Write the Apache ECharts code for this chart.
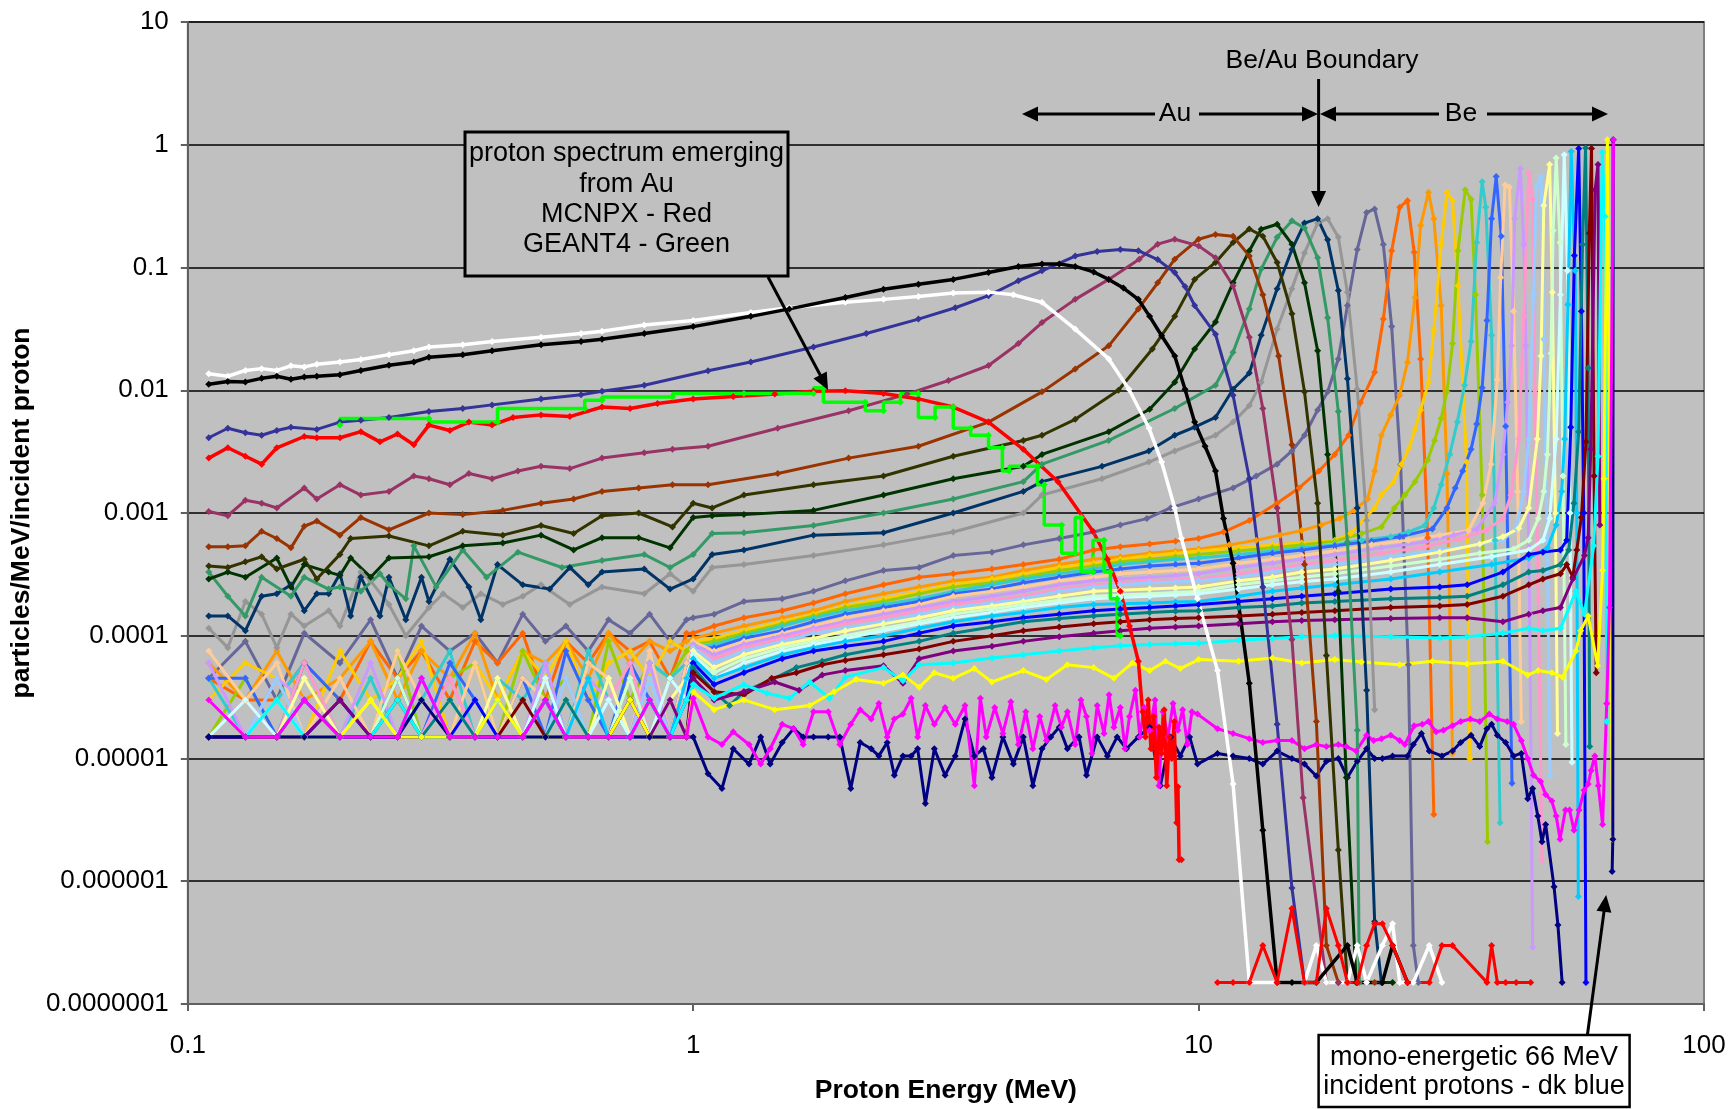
<!DOCTYPE html>
<html><head><meta charset="utf-8">
<script src="https://cdn.jsdelivr.net/npm/echarts@6/dist/echarts.min.js"></script>
<style>html,body{margin:0;padding:0;background:#fff}#c{width:1729px;height:1109px}</style>
</head><body><div id="c"></div>
<script>
const xTickLabels = ['0.1','1','10','100'];
const yTickLabels = ['0.0000001','0.000001','0.00001','0.0001','0.001','0.01','0.1','1','10'];
const lowE = [0.11,0.13,0.15,0.17,0.2,0.23,0.26,0.29,0.33,0.37,0.41,0.46,0.51,0.56,0.62,0.68,0.75,0.82,0.9,0.97];

// ---- Au region spectra ----
const auWhite = [[0.11,0.0136],[0.12,0.013],[0.13,0.0145],[0.14,0.015],[0.15,0.0145],[0.16,0.0158],[0.17,0.0155],[0.18,0.0163],[0.2,0.017],[0.22,0.0178],[0.25,0.0195],[0.28,0.021],[0.3,0.0225],[0.35,0.0235],[0.4,0.025],[0.5,0.027],[0.6,0.029],[0.66,0.0303],[0.8,0.034],[1.0,0.037],[1.3,0.043],[1.55,0.047],[2.0,0.052],[2.38,0.055],[2.79,0.058],[3.27,0.062],[3.84,0.063],[4.3,0.06],[4.9,0.052],[5.7,0.0315],[6.64,0.018],[7.28,0.0102],[7.98,0.0049],[8.45,0.0026],[8.97,0.0011],[9.25,6.2e-4],[9.95,2.0e-4],[10.9,5.2e-5],[11.7,6.2e-6],[12.6,1.5e-7],[14.3,1.5e-7],[16.2,1.5e-7],[17.1,3e-7],[17.9,1.5e-7],[19.7,1.5e-7],[20.6,3e-7],[21.5,1.5e-7],[23.1,3e-7],[24.2,4.5e-7],[25.0,1.5e-7],[26.6,1.5e-7],[28.6,3e-7],[30.3,1.5e-7]];
const auBlack = [[0.11,0.0112],[0.12,0.0118],[0.13,0.0117],[0.14,0.0125],[0.15,0.013],[0.16,0.0123],[0.17,0.0128],[0.18,0.013],[0.2,0.0134],[0.22,0.0145],[0.25,0.016],[0.28,0.017],[0.3,0.0186],[0.35,0.0195],[0.4,0.021],[0.5,0.0235],[0.6,0.025],[0.66,0.026],[0.8,0.029],[1.0,0.033],[1.3,0.04],[1.55,0.046],[2.0,0.057],[2.38,0.0665],[2.79,0.073],[3.27,0.08],[3.84,0.091],[4.4,0.102],[4.9,0.107],[5.3,0.107],[5.7,0.102],[6.2,0.092],[6.64,0.08],[7.1,0.068],[7.6,0.055],[8.0,0.04],[8.45,0.0278],[8.97,0.019],[9.4,0.0102],[9.82,0.0055],[10.3,0.0035],[10.8,0.0022],[11.2,9e-4],[11.7,3.9e-4],[12.6,4.1e-5],[13.4,2.6e-6],[14.3,1.5e-7],[15.3,1.5e-7],[17.1,1.5e-7],[19.7,3e-7],[20.6,1.5e-7],[23.1,1.5e-7],[24.2,3e-7],[25.9,1.5e-7]];
const auIndigo = [[0.11,0.0041],[0.12,0.0049],[0.13,0.0045],[0.14,0.0043],[0.15,0.0047],[0.16,0.005],[0.18,0.0048],[0.2,0.0055],[0.22,0.0057],[0.25,0.006],[0.3,0.0067],[0.35,0.0071],[0.4,0.0076],[0.5,0.0085],[0.6,0.0092],[0.66,0.0098],[0.8,0.011],[1.07,0.0144],[1.3,0.017],[1.73,0.0225],[2.2,0.029],[2.79,0.038],[3.3,0.047],[3.84,0.059],[4.4,0.078],[4.9,0.094],[5.7,0.124],[6.3,0.135],[7.0,0.14],[7.6,0.137],[8.3,0.116],[8.97,0.091],[9.4,0.07],[9.82,0.049],[10.8,0.0286],[11.7,0.0091],[12.6,0.0019],[13.4,2.5e-4],[14.3,1.9e-5],[15.3,8.8e-7],[16.2,1.5e-7]];
const auPurple = [[0.11,0.00103],[0.12,0.00095],[0.13,0.00127],[0.14,0.0012],[0.15,0.0011],[0.17,0.0016],[0.18,0.0013],[0.2,0.0017],[0.22,0.0014],[0.25,0.0015],[0.28,0.002],[0.3,0.0019],[0.33,0.0017],[0.36,0.0021],[0.4,0.0019],[0.45,0.0022],[0.5,0.0024],[0.57,0.0023],[0.66,0.0028],[0.8,0.0031],[0.91,0.0033],[1.07,0.0035],[1.47,0.0049],[2.03,0.0068],[2.65,0.0093],[3.2,0.012],[3.84,0.0159],[4.4,0.024],[4.9,0.0356],[5.7,0.055],[6.64,0.08],[7.63,0.117],[8.3,0.155],[8.97,0.17],[10,0.15],[10.8,0.12],[11.7,0.071],[12.6,0.027],[13.4,0.0071],[14.3,0.0011],[15.3,9.3e-5],[16.1,4.8e-6],[17.9,1.5e-7],[18.9,1.5e-7],[19.7,1.5e-7],[21.5,1.5e-7]];
const auBrown = [[0.11,5.3e-4],[0.12,5.3e-4],[0.13,5.4e-4],[0.14,7.1e-4],[0.15,6.2e-4],[0.16,5.2e-4],[0.17,7.8e-4],[0.18,8.6e-4],[0.2,6.6e-4],[0.22,9.2e-4],[0.25,7.3e-4],[0.3,0.001],[0.35,9.7e-4],[0.42,0.00105],[0.5,0.0012],[0.58,0.0013],[0.66,0.0015],[0.78,0.0016],[0.91,0.0017],[1.07,0.0017],[1.47,0.0021],[2.03,0.0028],[2.79,0.0035],[3.84,0.0055],[4.9,0.0097],[5.7,0.0149],[6.64,0.023],[7.6,0.046],[8.3,0.075],[8.97,0.117],[10,0.17],[10.8,0.186],[11.7,0.18],[12.6,0.124],[13.4,0.06],[14.4,0.019],[15.3,0.0036],[16.2,3.8e-4],[17.1,2e-5],[17.9,3e-7],[18.9,1.5e-7],[22.3,1.5e-7]];
const auOlive = [[0.11,3.7e-4],[0.12,3.6e-4],[0.13,4e-4],[0.14,4.4e-4],[0.15,3.5e-4],[0.17,4.2e-4],[0.18,2.9e-4],[0.2,4.6e-4],[0.21,6.2e-4],[0.25,6.5e-4],[0.3,5.4e-4],[0.35,7.1e-4],[0.42,6.6e-4],[0.5,7.9e-4],[0.58,6.8e-4],[0.66,9.5e-4],[0.78,1.0e-3],[0.91,7.7e-4],[1.0,1.2e-3],[1.09,1.1e-3],[1.26,1.4e-3],[1.73,1.7e-3],[2.38,2.0e-3],[3.27,2.9e-3],[4.5,3.9e-3],[4.9,4.3e-3],[5.7,5.8e-3],[6.94,0.01],[8.1,0.0217],[8.97,0.04],[9.82,0.08],[10.8,0.11],[11.7,0.16],[12.6,0.206],[13.4,0.18],[14.3,0.11],[15.3,0.042],[16.2,0.0097],[17.2,0.0012],[17.9,6.9e-5],[18.9,1.8e-6],[19.7,1.5e-7],[23.1,1.5e-7]];
const auDkGreen = [[0.11,2.9e-4],[0.12,3.3e-4],[0.13,3.0e-4],[0.15,4.3e-4],[0.16,2.5e-4],[0.17,3.8e-4],[0.19,3.3e-4],[0.2,3.1e-4],[0.21,4.3e-4],[0.23,3.0e-4],[0.25,4.3e-4],[0.3,4.4e-4],[0.35,5.4e-4],[0.42,5.7e-4],[0.5,6.6e-4],[0.58,5e-4],[0.66,6.3e-4],[0.78,6.3e-4],[0.9,5.2e-4],[1.0,9.2e-4],[1.09,9.5e-4],[1.26,9.7e-4],[1.73,1.05e-3],[2.38,1.4e-3],[3.27,1.9e-3],[4.5,2.4e-3],[4.9,3.0e-3],[6.64,4.6e-3],[8.0,7.0e-3],[8.97,0.0116],[9.82,0.0217],[10.8,0.036],[11.7,0.075],[12.6,0.137],[13.3,0.205],[14.3,0.225],[15.3,0.155],[16.2,0.075],[17.2,0.021],[18.0,0.003],[18.9,2.3e-4],[19.6,7e-6],[20.5,1.5e-7],[24.2,1.5e-7]];
const auSeaGreen = [[0.11,3.3e-4],[0.12,2.1e-4],[0.13,1.45e-4],[0.14,3e-4],[0.16,2.1e-4],[0.17,3e-4],[0.19,2.4e-4],[0.2,2.5e-4],[0.22,2.3e-4],[0.24,3.2e-4],[0.25,2.6e-4],[0.27,2e-4],[0.28,5.4e-4],[0.31,2.5e-4],[0.35,5e-4],[0.39,3e-4],[0.45,4.8e-4],[0.55,3.6e-4],[0.66,4.1e-4],[0.8,4.6e-4],[0.9,3.6e-4],[1.0,4.6e-4],[1.09,6.8e-4],[1.26,6.9e-4],[1.73,7.9e-4],[2.38,1e-3],[3.27,1.3e-3],[4.5,1.8e-3],[4.9,2.5e-3],[6.64,3.9e-3],[8.97,7.1e-3],[10.8,0.011],[11.7,0.0204],[12.6,0.046],[13.3,0.097],[14.3,0.176],[15.3,0.24],[16.2,0.21],[17.2,0.12],[18.0,0.039],[18.9,0.0067],[19.7,5.8e-4],[20.6,1.7e-5],[20.8,1.5e-7]];
const auNavy = [[0.11,1.45e-4],[0.12,1.45e-4],[0.13,1.1e-4],[0.14,2.1e-4],[0.15,2.2e-4],[0.16,2.6e-4],[0.17,1.6e-4],[0.18,2.2e-4],[0.19,2.2e-4],[0.2,3.2e-4],[0.21,1.45e-4],[0.22,3e-4],[0.24,1.45e-4],[0.25,3e-4],[0.27,1.35e-4],[0.29,3e-4],[0.3,1.9e-4],[0.33,4.2e-4],[0.36,2.5e-4],[0.38,1.35e-4],[0.41,3.8e-4],[0.46,2.6e-4],[0.52,2.4e-4],[0.57,3.6e-4],[0.62,2.6e-4],[0.66,3.3e-4],[0.8,3.5e-4],[0.9,2.4e-4],[1.0,2.9e-4],[1.09,4.6e-4],[1.26,5e-4],[1.73,6.6e-4],[2.38,6.9e-4],[3.27,1.0e-3],[4.5,1.5e-3],[4.9,1.8e-3],[6.44,2.4e-3],[7.97,3.2e-3],[8.97,4.3e-3],[9.82,5e-3],[10.8,6e-3],[11.7,0.0102],[12.6,0.0138],[13.3,0.028],[14.3,0.067],[15.3,0.14],[16.2,0.23],[17.2,0.25],[18.0,0.168],[18.9,0.065],[19.7,0.0124],[20.6,0.0011],[21.5,3.6e-5],[22.3,4.7e-7],[23.0,1.5e-7]];
const auGrey = [[0.11,1.15e-4],[0.12,8e-5],[0.13,1.9e-4],[0.14,1.5e-4],[0.15,8e-5],[0.16,1.5e-4],[0.17,1.2e-4],[0.19,1.6e-4],[0.2,1.2e-4],[0.22,3.3e-4],[0.23,2.8e-4],[0.25,1.8e-4],[0.27,1e-4],[0.3,1.7e-4],[0.32,2.2e-4],[0.35,1.7e-4],[0.38,2.2e-4],[0.42,1.8e-4],[0.46,2.1e-4],[0.5,2.6e-4],[0.57,1.8e-4],[0.66,2.5e-4],[0.8,2.2e-4],[0.9,3.2e-4],[1.0,2.3e-4],[1.09,3.6e-4],[1.26,3.8e-4],[1.73,4.5e-4],[2.38,5.5e-4],[3.27,7e-4],[4.5,1e-3],[4.9,1.4e-3],[6.44,1.9e-3],[7.97,2.6e-3],[8.97,3.2e-3],[10.8,4.3e-3],[11.7,5.5e-3],[12.6,7.5e-3],[13.3,0.0116],[14.3,0.0315],[15.3,0.067],[16.2,0.131],[17.2,0.23],[18.0,0.25],[18.9,0.176],[19.7,0.063],[20.6,0.0102],[21.5,8.7e-4],[22.3,2.5e-5]];
const auRed = [[0.11,0.0028],[0.12,0.0034],[0.13,0.0029],[0.14,0.0025],[0.15,0.0034],[0.17,0.0042],[0.18,0.0041],[0.2,0.0041],[0.22,0.0046],[0.24,0.0038],[0.26,0.0044],[0.28,0.0036],[0.3,0.0052],[0.33,0.0047],[0.36,0.0055],[0.4,0.0052],[0.44,0.006],[0.5,0.0063],[0.57,0.0061],[0.66,0.0073],[0.75,0.0071],[0.85,0.0078],[1.0,0.0085],[1.2,0.0089],[1.45,0.0093],[1.73,0.0098],[2.0,0.0099],[2.38,0.0094],[2.79,0.0085],[3.27,0.0073],[3.84,0.0055],[4.5,0.0033],[5.27,0.0018],[6.18,7.1e-4],[6.6,4.2e-4],[7.0,2.3e-4],[7.3,1.2e-4],[7.6,6.2e-5],[7.75,2.4e-5],[7.85,1.5e-5],[7.95,3e-5],[8.05,1.2e-5],[8.15,2.2e-5],[8.25,7e-6],[8.35,1.8e-5],[8.45,1.1e-5],[8.55,2.5e-5],[8.65,6e-6],[8.75,1.5e-5],[8.85,1e-5],[8.95,2e-5],[9.05,3e-6],[9.1,5.9e-6],[9.15,1.5e-6],[9.25,1.5e-6]];
const auRedTail = [[10.9,1.5e-7],[11.7,1.5e-7],[12.6,1.5e-7],[13.4,3e-7],[14.3,1.5e-7],[15.3,6e-7],[16.2,1.5e-7],[17.1,1.5e-7],[17.9,6e-7],[18.9,3e-7],[19.7,1.5e-7],[20.6,1.5e-7],[21.5,3e-7],[22.3,4.5e-7],[23.1,4.5e-7],[24.2,3e-7],[25.9,1.5e-7],[28.6,1.5e-7],[30.3,3e-7],[31.8,3e-7],[37.2,1.5e-7],[38,3e-7],[39,1.5e-7],[40.5,1.5e-7],[42.5,1.5e-7],[45.4,1.5e-7]];
const geantGreen = [[0.2,0.0052],[0.3,0.0059],[0.41,0.0055],[0.61,0.0071],[0.66,0.0083],[0.91,0.0088],[1.26,0.0094],[1.73,0.0094],[1.81,0.0105],[2.19,0.008],[2.38,0.0068],[2.57,0.008],[2.79,0.0094],[3.01,0.006],[3.27,0.0073],[3.54,0.0049],[3.84,0.0043],[4.09,0.0034],[4.22,0.0022],[4.8,0.0024],[4.95,0.0017],[5.36,8e-4],[5.7,4.7e-4],[5.86,9.2e-4],[6.18,3.3e-4],[6.5,6e-4],[6.69,3.3e-4],[6.9,2e-4],[7.0,1e-4]];

// ---- Be region spectra: low-energy values (at lowE) and the rest ----
const beSlateLow = [4.5e-5,9e-5,3e-5,1.05e-4,6e-5,1.35e-4,4.5e-5,1.2e-4,7.5e-5,1.05e-4,6e-5,1.5e-4,9e-5,1.2e-4,7.5e-5,1.35e-4,1.05e-4,1.5e-4,9e-5,1.35e-4];
const beSlate = [[1.0,1.4e-4],[1.1,1.5e-4],[1.26,1.9e-4],[1.5,2.0e-4],[1.73,2.3e-4],[2.0,2.8e-4],[2.38,3.4e-4],[2.8,3.6e-4],[3.27,4.5e-4],[3.9,4.8e-4],[4.5,5.5e-4],[5.3,6.2e-4],[6.2,7e-4],[7.0,8e-4],[7.9,9e-4],[8.8,1.1e-3],[10,1.3e-3],[11.7,1.6e-3],[13,2e-3],[14.3,2.5e-3],[15.3,3.2e-3],[16.2,4.3e-3],[17.2,6.9e-3],[18,9.7e-3],[18.9,0.018],[19.7,0.049],[20.6,0.14],[21.5,0.28],[22.3,0.3],[23.2,0.154],[24.1,0.033],[25.1,0.0025],[26.0,5.8e-5],[26.6,3e-7],[27.2,1.5e-7]];
const beOrangeLow = [4.5e-5,3e-5,3e-5,6e-5,3e-5,9e-5,4.5e-5,7.5e-5,3e-5,9e-5,6e-5,1.05e-4,3e-5,9e-5,6e-5,1.05e-4,7.5e-5,9e-5,4.5e-5,1.05e-4];
const beOrange = [[1.0,1.05e-4],[1.1,1.2e-4],[1.26,1.4e-4],[1.5,1.6e-4],[1.73,1.85e-4],[2.0,2.2e-4],[2.38,2.6e-4],[2.8,3e-4],[3.27,3.2e-4],[3.9,3.5e-4],[4.5,3.8e-4],[5.3,4.2e-4],[6.2,5e-4],[7.0,5.3e-4],[8,5.6e-4],[9,5.9e-4],[10,6.2e-4],[11.2,7e-4],[12.6,8.7e-4],[14.3,1.2e-3],[15.8,1.6e-3],[17.3,2.2e-3],[18.6,3e-3],[19.8,4.3e-3],[20.9,7.9e-3],[22.3,1.4e-2],[23.2,3.8e-2],[24.1,0.137],[25.0,0.31],[25.9,0.35],[26.7,0.133],[27.5,0.018],[28.4,6.3e-4],[29.2,3.5e-6]];
const beAmberLow = [6e-5,3e-5,7.5e-5,3e-5,4.5e-5,9e-5,3e-5,7.5e-5,4.5e-5,1.05e-4,3e-5,7.5e-5,6e-5,9e-5,4.5e-5,1.05e-4,6e-5,9e-5,7.5e-5,9e-5];
const beAmber = [[1.0,9.5e-5],[1.1,1.05e-4],[1.26,1.2e-4],[1.5,1.4e-4],[1.73,1.6e-4],[2.0,1.9e-4],[2.38,2.2e-4],[2.8,2.5e-4],[3.27,2.8e-4],[3.9,3.0e-4],[4.5,3.4e-4],[5.3,3.8e-4],[6.2,4.2e-4],[7.0,4.4e-4],[8,4.7e-4],[9,4.9e-4],[10,5.1e-4],[11.5,5.5e-4],[13,6e-4],[14.5,6.6e-4],[16,7.2e-4],[17.5,8e-4],[19,9e-4],[20.3,1.05e-3],[21.6,1.3e-3],[22.3,2.2e-3],[23,4.3e-3],[24,6.3e-3],[25,9.1e-3],[25.9,1.69e-2],[26.8,5.7e-2],[27.5,0.22],[28.5,0.41],[29.2,0.25],[30.2,0.049],[31.0,2.1e-3],[31.8,1.1e-5]];
const beGoldLow = [3e-5,6e-5,4.5e-5,1.5e-5,7.5e-5,3e-5,4.5e-5,9e-5,1.5e-5,6e-5,3e-5,7.5e-5,4.5e-5,9e-5,3e-5,6e-5,7.5e-5,4.5e-5,9e-5,7.5e-5];
const beGold = [[1.0,9e-5],[1.1,9.5e-5],[1.26,1.1e-4],[1.5,1.3e-4],[1.73,1.5e-4],[2.0,1.75e-4],[2.38,2.0e-4],[2.8,2.3e-4],[3.27,2.6e-4],[3.9,2.9e-4],[4.5,3.2e-4],[5.3,3.6e-4],[6.2,3.9e-4],[7.0,4.2e-4],[8,4.5e-4],[9,4.7e-4],[10,4.9e-4],[12,5.2e-4],[14,5.5e-4],[16,5.7e-4],[18.6,6e-4],[20,6.8e-4],[22.3,1.1e-3],[23,1.4e-3],[24.3,1.8e-3],[25.2,2.5e-3],[26.1,3.4e-3],[26.8,4.8e-3],[27.5,6.9e-3],[28.5,1.16e-2],[29.2,3.1e-2],[30.2,0.154],[31.0,0.41],[31.8,0.35],[32.6,0.071],[33.9,2.6e-3],[34.4,1e-5]];
const beLimeLow = [1.5e-5,4.5e-5,1.5e-5,6e-5,3e-5,1.5e-5,7.5e-5,1.5e-5,4.5e-5,6e-5,1.5e-5,7.5e-5,3e-5,4.5e-5,1.5e-5,9e-5,3e-5,6e-5,4.5e-5,7.5e-5];
const beLime = [[1.0,8.5e-5],[1.1,9e-5],[1.26,1.05e-4],[1.5,1.25e-4],[1.73,1.45e-4],[2.0,1.7e-4],[2.38,1.9e-4],[2.8,2.2e-4],[3.27,2.5e-4],[3.9,2.7e-4],[4.5,3.0e-4],[5.3,3.4e-4],[6.2,3.7e-4],[7.0,4.0e-4],[8,4.2e-4],[9,4.4e-4],[10,4.6e-4],[12,4.9e-4],[14,5.2e-4],[16,5.5e-4],[18.6,5.9e-4],[21,6.8e-4],[23,7.7e-4],[24.4,1.1e-3],[25.6,1.4e-3],[26.8,1.8e-3],[28.4,2.7e-3],[29.3,3.9e-3],[30.2,5.9e-3],[31.0,9.7e-3],[31.8,2.4e-2],[32.6,0.137],[33.7,0.43],[34.6,0.36],[35.3,0.06],[36.4,1.4e-3],[37.3,2.1e-6]];
const beTurqLow = [4.5e-5,1.5e-5,3e-5,6e-5,1.5e-5,4.5e-5,1.5e-5,3e-5,7.5e-5,1.5e-5,4.5e-5,3e-5,6e-5,1.5e-5,7.5e-5,3e-5,1.5e-5,6e-5,4.5e-5,6e-5];
const beTurq = [[1.0,8e-5],[1.1,8.5e-5],[1.26,1e-4],[1.5,1.2e-4],[1.73,1.4e-4],[2.0,1.6e-4],[2.38,1.8e-4],[2.8,2.0e-4],[3.27,2.3e-4],[3.9,2.6e-4],[4.5,2.9e-4],[5.3,3.2e-4],[6.2,3.5e-4],[7.0,3.8e-4],[8,4.0e-4],[9,4.2e-4],[10,4.3e-4],[12,4.6e-4],[14,4.9e-4],[16,5.2e-4],[18.6,5.5e-4],[21,6e-4],[24,6.4e-4],[26,7e-4],[28,7.9e-4],[29.2,1.1e-3],[30.2,1.7e-3],[31.4,3e-3],[32.5,5.5e-3],[33.6,1.1e-2],[34.6,2.5e-2],[35.5,0.16],[36.4,0.5],[37.0,0.31],[38.0,2.8e-2],[38.6,6e-4],[39.5,3e-6]];
const beRoyalLow = [4.5e-5,4.5e-5,1.5e-5,6e-5,3e-5,1.5e-5,4.5e-5,1.5e-5,6e-5,3e-5,1.5e-5,4.5e-5,1.5e-5,7.5e-5,3e-5,1.5e-5,6e-5,3e-5,1.5e-5,6e-5];
const beRoyal = [[1.0,8e-5],[1.1,8e-5],[1.26,9.5e-5],[1.5,1.1e-4],[1.73,1.3e-4],[2.0,1.5e-4],[2.38,1.7e-4],[2.8,1.9e-4],[3.27,2.2e-4],[3.9,2.4e-4],[4.5,2.7e-4],[5.3,3.0e-4],[6.2,3.3e-4],[7.0,3.5e-4],[8,3.7e-4],[9,3.8e-4],[10,3.9e-4],[12,4.3e-4],[14,4.7e-4],[16,5e-4],[18.6,5.4e-4],[22,5.9e-4],[25,6.4e-4],[29,7.4e-4],[31,1.1e-3],[32.2,1.6e-3],[33.3,2.2e-3],[34.6,3.3e-3],[35.5,5.3e-3],[36.4,1.05e-2],[37.2,3.7e-2],[38.0,0.25],[38.8,0.55],[39.7,0.18],[40.5,5.1e-3],[41.7,6.3e-6]];
const bePeachLow = [7.5e-5,3e-5,6e-5,1.5e-5,4.5e-5,1.5e-5,7.5e-5,3e-5,1.5e-5,6e-5,1.5e-5,4.5e-5,3e-5,1.5e-5,6e-5,4.5e-5,1.5e-5,7.5e-5,1.5e-5,6e-5];
const bePeach = [[1.0,9e-5],[1.1,7.5e-5],[1.26,9e-5],[1.5,1.05e-4],[1.73,1.2e-4],[2.0,1.4e-4],[2.38,1.6e-4],[2.8,1.8e-4],[3.27,2.1e-4],[3.9,2.3e-4],[4.5,2.5e-4],[5.3,2.8e-4],[6.2,3.0e-4],[7.0,3.2e-4],[8,3.3e-4],[9,3.4e-4],[10,3.5e-4],[12,3.9e-4],[14,4.2e-4],[16,4.5e-4],[18.6,4.9e-4],[22,5.5e-4],[26,6e-4],[30,6.6e-4],[34.2,7.2e-4],[36.5,1.2e-3],[37.9,2.5e-3],[39.0,1.22e-2],[39.6,8.3e-2],[40.4,0.47],[41.2,0.45],[42.0,4.4e-2],[42.8,1.5e-3],[43.5,2e-5]];
const beLavenderLow = [6e-5,1.5e-5,4.5e-5,3e-5,1.5e-5,6e-5,1.5e-5,1.5e-5,4.5e-5,1.5e-5,3e-5,1.5e-5,6e-5,1.5e-5,4.5e-5,3e-5,1.5e-5,6e-5,1.5e-5,4.5e-5];
const beLavender = [[1.0,8.5e-5],[1.1,7e-5],[1.26,8.5e-5],[1.5,1e-4],[1.73,1.15e-4],[2.0,1.3e-4],[2.38,1.5e-4],[2.8,1.7e-4],[3.27,1.9e-4],[3.9,2.1e-4],[4.5,2.3e-4],[5.3,2.6e-4],[6.2,2.8e-4],[7.0,2.9e-4],[8,3.0e-4],[9,3.1e-4],[10,3.2e-4],[12,3.6e-4],[14,3.9e-4],[16,4.2e-4],[18.6,4.6e-4],[23,5.2e-4],[28,5.8e-4],[32,6.6e-4],[35.5,7.4e-4],[38.5,1.2e-3],[40,3e-3],[40.9,8e-3],[41.6,2.3e-2],[42.2,0.25],[43.3,0.64],[44.0,0.154],[44.4,2.3e-2],[45.2,1.5e-4],[45.8,2.9e-7]];
const bePinkLow = [1.5e-5,3e-5,1.5e-5,6e-5,1.5e-5,3e-5,1.5e-5,1.5e-5,4.5e-5,1.5e-5,3e-5,1.5e-5,1.5e-5,4.5e-5,1.5e-5,3e-5,6e-5,1.5e-5,1.5e-5,4.5e-5];
const bePink = [[1.0,8e-5],[1.1,6.5e-5],[1.26,8e-5],[1.5,9.5e-5],[1.73,1.1e-4],[2.0,1.25e-4],[2.38,1.4e-4],[2.8,1.6e-4],[3.27,1.8e-4],[3.9,1.95e-4],[4.5,2.1e-4],[5.3,2.4e-4],[6.2,2.6e-4],[7.0,2.7e-4],[8,2.8e-4],[9,2.85e-4],[10,2.9e-4],[12,3.2e-4],[14,3.5e-4],[16,3.8e-4],[18.6,4.1e-4],[23,4.7e-4],[28,5.3e-4],[33,6.2e-4],[37,7.2e-4],[40,9e-4],[41.5,1.4e-3],[43,4e-3],[44,4e-2],[45.0,0.59],[45.8,0.36],[46.3,1e-2],[47.0,2e-4],[47.8,1.5e-6]];
const beSkyLow = [3e-5,1.5e-5,4.5e-5,1.5e-5,1.5e-5,3e-5,1.5e-5,4.5e-5,1.5e-5,1.5e-5,3e-5,1.5e-5,1.5e-5,4.5e-5,1.5e-5,3e-5,1.5e-5,4.5e-5,1.5e-5,3e-5];
const beSky = [[1.0,8e-5],[1.1,6e-5],[1.26,7.5e-5],[1.5,9e-5],[1.73,1.05e-4],[2.0,1.15e-4],[2.38,1.3e-4],[2.8,1.5e-4],[3.27,1.7e-4],[3.9,1.85e-4],[4.5,2.0e-4],[5.3,2.3e-4],[6.2,2.5e-4],[7.0,2.6e-4],[8,2.7e-4],[9,2.75e-4],[10,2.8e-4],[12,3.0e-4],[14,3.3e-4],[16,3.6e-4],[18.6,3.8e-4],[24,4.4e-4],[30,5e-4],[36,5.6e-4],[40,6e-4],[42.5,7.5e-4],[44,1.5e-3],[45,4e-3],[46,6e-2],[46.6,0.46],[47.6,0.55],[48.2,2.6e-2],[49.0,4e-4],[49.6,7.3e-6]];
const beCreamLow = [3e-5,1.5e-5,1.5e-5,4.5e-5,1.5e-5,1.5e-5,3e-5,1.5e-5,1.5e-5,1.5e-5,4.5e-5,1.5e-5,3e-5,1.5e-5,1.5e-5,4.5e-5,1.5e-5,1.5e-5,3e-5,4.5e-5];
const beCream = [[1.0,7.5e-5],[1.1,5.5e-5],[1.26,7e-5],[1.5,8.5e-5],[1.73,9.5e-5],[2.0,1.1e-4],[2.38,1.25e-4],[2.8,1.4e-4],[3.27,1.6e-4],[3.9,1.75e-4],[4.5,1.9e-4],[5.3,2.1e-4],[6.2,2.3e-4],[7.0,2.35e-4],[8,2.4e-4],[9,2.45e-4],[10,2.5e-4],[12,2.8e-4],[14,3e-4],[16,3.3e-4],[18.6,3.5e-4],[24,4.1e-4],[30,4.8e-4],[36,5.6e-4],[40,6.4e-4],[43,7.5e-4],[45,1.1e-3],[46.8,4e-3],[47.6,1.9e-2],[48.2,0.32],[49.5,0.69],[50.1,6.3e-2],[50.8,1e-3],[51.3,1.6e-5]];
const beMintLow = [1.5e-5,1.5e-5,3e-5,1.5e-5,1.5e-5,1.5e-5,4.5e-5,1.5e-5,1.5e-5,3e-5,1.5e-5,1.5e-5,1.5e-5,3e-5,1.5e-5,1.5e-5,4.5e-5,1.5e-5,1.5e-5,3e-5];
const beMint = [[1.0,7e-5],[1.1,5e-5],[1.26,6.5e-5],[1.5,8e-5],[1.73,9e-5],[2.0,1.0e-4],[2.38,1.15e-4],[2.8,1.3e-4],[3.27,1.5e-4],[3.9,1.65e-4],[4.5,1.8e-4],[5.3,1.95e-4],[6.2,2.1e-4],[7.0,2.15e-4],[8,2.2e-4],[9,2.25e-4],[10,2.3e-4],[12,2.6e-4],[14,2.8e-4],[16,3e-4],[18.6,3.2e-4],[24,3.7e-4],[30,4.2e-4],[36,4.7e-4],[42,5.1e-4],[45,6e-4],[47,9e-4],[48.2,1.5e-3],[49,3e-3],[49.8,2e-2],[50.3,0.2],[51.0,0.78],[51.9,0.16],[52.6,2e-3],[53.3,1.3e-5]];
const beIceLow = [1.5e-5,3e-5,1.5e-5,1.5e-5,1.5e-5,3e-5,1.5e-5,1.5e-5,3e-5,1.5e-5,1.5e-5,1.5e-5,4.5e-5,1.5e-5,1.5e-5,3e-5,1.5e-5,1.5e-5,4.5e-5,3e-5];
const beIce = [[1.0,7e-5],[1.1,4.5e-5],[1.26,6e-5],[1.5,7.5e-5],[1.73,8.5e-5],[2.0,9.5e-5],[2.38,1.1e-4],[2.8,1.25e-4],[3.27,1.4e-4],[3.9,1.55e-4],[4.5,1.7e-4],[5.3,1.85e-4],[6.2,2.0e-4],[7.0,2.05e-4],[8,2.1e-4],[9,2.15e-4],[10,2.2e-4],[12,2.4e-4],[14,2.6e-4],[16,2.75e-4],[18.6,2.9e-4],[24,3.3e-4],[30,3.8e-4],[38,4.4e-4],[45,5e-4],[48,6e-4],[49.5,9e-4],[51,4e-3],[52.0,6e-2],[52.9,0.83],[53.7,9.4e-2],[54.3,1e-3],[54.8,9.3e-6]];
const beAzureLow = [1.5e-5,1.5e-5,1.5e-5,3e-5,1.5e-5,1.5e-5,1.5e-5,4.5e-5,1.5e-5,1.5e-5,3e-5,1.5e-5,1.5e-5,1.5e-5,4.5e-5,1.5e-5,1.5e-5,3e-5,1.5e-5,4.5e-5];
const beAzure = [[1.0,6.5e-5],[1.1,4.5e-5],[1.26,5.5e-5],[1.5,7e-5],[1.73,8e-5],[2.0,9e-5],[2.38,1e-4],[2.8,1.15e-4],[3.27,1.3e-4],[3.9,1.45e-4],[4.5,1.55e-4],[5.3,1.7e-4],[6.2,1.8e-4],[7.0,1.82e-4],[8,1.85e-4],[9,1.88e-4],[10,1.9e-4],[12,2.1e-4],[14,2.3e-4],[16,2.45e-4],[18.6,2.6e-4],[24,2.9e-4],[30,3.3e-4],[38,3.8e-4],[45,4.3e-4],[49,5.2e-4],[51,8e-4],[52.3,1.5e-3],[53,4e-3],[53.8,5e-2],[54.6,0.88],[55.6,9.4e-2],[56.0,1e-3],[56.4,7.5e-7]];
const beBlueLow = [1.5e-5,1.5e-5,1.5e-5,1.5e-5,3e-5,1.5e-5,1.5e-5,1.5e-5,1.5e-5,3e-5,1.5e-5,1.5e-5,3e-5,1.5e-5,1.5e-5,1.5e-5,3e-5,1.5e-5,1.5e-5,3e-5];
const beBlue = [[1.0,6e-5],[1.1,4e-5],[1.26,5e-5],[1.5,6.5e-5],[1.73,7.5e-5],[2.0,8.2e-5],[2.38,9e-5],[2.8,1.05e-4],[3.27,1.2e-4],[3.9,1.3e-4],[4.5,1.4e-4],[5.3,1.5e-4],[6.2,1.6e-4],[7.0,1.65e-4],[8,1.7e-4],[9,1.75e-4],[10,1.8e-4],[12,1.9e-4],[14,2e-4],[16,2.1e-4],[18.6,2.2e-4],[24,2.4e-4],[30,2.5e-4],[34,2.6e-4],[40,3.3e-4],[45,4.6e-4],[48,4.8e-4],[52,5e-4],[53.5,6e-4],[54.5,5e-3],[55.4,0.125],[56.5,0.93],[57.2,4.4e-2],[57.8,1e-3],[58.4,1.5e-7]];
const beTealLow = [1.5e-5,1.5e-5,1.5e-5,3e-5,1.5e-5,1.5e-5,1.5e-5,1.5e-5,3e-5,1.5e-5,1.5e-5,1.5e-5,1.5e-5,3e-5,1.5e-5,1.5e-5,1.5e-5,3e-5,1.5e-5,1.5e-5];
const beTeal = [[1.0,5.5e-5],[1.1,3.5e-5],[1.18,2.7e-5],[1.26,3.5e-5],[1.43,4.4e-5],[1.6,5.5e-5],[1.8,6.2e-5],[2.0,7e-5],[2.38,8e-5],[2.8,9e-5],[3.27,1.05e-4],[3.9,1.18e-4],[4.5,1.3e-4],[5.3,1.38e-4],[6.2,1.45e-4],[7.0,1.5e-4],[8,1.55e-4],[9,1.58e-4],[10,1.6e-4],[12,1.7e-4],[14,1.75e-4],[16,1.85e-4],[18.6,1.9e-4],[24,2.0e-4],[30,2.05e-4],[34,2.1e-4],[40,2.6e-4],[45,3.3e-4],[48,3.4e-4],[52,3.8e-4],[54,5e-4],[55.3,1.2e-3],[56.5,4.6e-3],[57.5,0.154],[58.3,0.94],[59.0,1.52e-2],[59.4,1.25e-5]];
const beMaroonLow = [1.5e-5,1.5e-5,1.5e-5,1.5e-5,1.5e-5,1.5e-5,3e-5,1.5e-5,1.5e-5,1.5e-5,1.5e-5,3e-5,1.5e-5,1.5e-5,1.5e-5,1.5e-5,3e-5,1.5e-5,1.5e-5,1.5e-5];
const beMaroon = [[1.0,5e-5],[1.1,3.5e-5],[1.26,3.3e-5],[1.43,4.5e-5],[1.6,5e-5],[1.8,5.8e-5],[2.0,6.3e-5],[2.38,7e-5],[2.8,7.8e-5],[3.27,9e-5],[3.9,1e-4],[4.5,1.1e-4],[5.3,1.18e-4],[6.2,1.25e-4],[7.0,1.3e-4],[8,1.35e-4],[9,1.38e-4],[10,1.4e-4],[12,1.45e-4],[14,1.5e-4],[16,1.55e-4],[18.6,1.6e-4],[24,1.7e-4],[30,1.75e-4],[34,1.8e-4],[40,2.1e-4],[45,2.6e-4],[48,2.9e-4],[52,3.2e-4],[53.5,3.8e-4],[55,3e-4],[56,5e-4],[57.2,9.2e-4],[58.4,3.8e-3],[59.3,0.19],[59.9,0.93],[60.6,2e-3],[61.2,5e-5]];
const bePlumLow = [1.5e-5,1.5e-5,1.5e-5,1.5e-5,3e-5,1.5e-5,1.5e-5,1.5e-5,1.5e-5,1.5e-5,1.5e-5,1.5e-5,3e-5,1.5e-5,1.5e-5,1.5e-5,1.5e-5,1.5e-5,3e-5,1.5e-5];
const bePlum = [[1.0,4.5e-5],[1.1,3e-5],[1.26,3.5e-5],[1.45,4.2e-5],[1.62,3.6e-5],[1.8,4.8e-5],[2.0,5.2e-5],[2.38,5.7e-5],[2.6,4.1e-5],[2.8,6.5e-5],[3.27,7.5e-5],[3.9,8.2e-5],[4.5,9e-5],[5.3,9.8e-5],[6.2,1.05e-4],[7.0,1.1e-4],[8,1.15e-4],[9,1.18e-4],[10,1.2e-4],[12,1.25e-4],[14,1.3e-4],[16,1.33e-4],[18.6,1.35e-4],[24,1.38e-4],[30,1.4e-4],[34,1.4e-4],[40,1.3e-4],[45,1.5e-4],[48,1.6e-4],[52,1.7e-4],[55,2.9e-4],[58,4.5e-4],[59,6.3e-4],[59.7,3.3e-3],[60.9,0.43],[61.7,0.69],[62.2,8e-4]];
const beCyanLow = [3e-5,1.5e-5,3e-5,1.5e-5,1.5e-5,1.5e-5,3e-5,1.5e-5,1.5e-5,1.5e-5,1.5e-5,1.5e-5,3e-5,1.5e-5,1.5e-5,1.5e-5,1.5e-5,3e-5,1.5e-5,3e-5];
const beCyan = [[1.0,4e-5],[1.1,3.1e-5],[1.26,4e-5],[1.4,3.4e-5],[1.55,3.1e-5],[1.7,4.2e-5],[1.86,3.1e-5],[2.0,4.6e-5],[2.38,5.5e-5],[2.6,4.3e-5],[2.8,5.8e-5],[3.27,6e-5],[3.9,6.6e-5],[4.5,7e-5],[5.3,7.5e-5],[6.2,8e-5],[7.0,8.3e-5],[8,8.5e-5],[9,8.6e-5],[10,8.7e-5],[12,9.2e-5],[14,9.5e-5],[16,9.8e-5],[18.6,1e-4],[24,9.8e-5],[30,9.6e-5],[34,9.8e-5],[40,1.05e-4],[45,1.15e-4],[48,1.1e-4],[52,1.15e-4],[55.8,2.3e-4],[58,1.5e-4],[60.5,5.4e-4],[61.7,2.9e-3],[62.9,0.87],[63.7,0.26],[64.2,2e-5]];
const beYellowLow = [3e-5,1.5e-5,1.5e-5,1.5e-5,1.5e-5,3e-5,1.5e-5,1.5e-5,1.5e-5,1.5e-5,3e-5,1.5e-5,1.5e-5,1.5e-5,1.5e-5,1.5e-5,3e-5,1.5e-5,1.5e-5,1.5e-5];
const beYellow = [[1.0,3.5e-5],[1.1,2.5e-5],[1.26,3e-5],[1.45,2.5e-5],[1.7,2.7e-5],[1.9,3.5e-5],[2.1,4.4e-5],[2.38,4.1e-5],[2.6,4.8e-5],[2.8,3.8e-5],[3.0,5e-5],[3.27,4.5e-5],[3.6,5.4e-5],[3.9,4.2e-5],[4.5,5.2e-5],[5.0,4.4e-5],[5.5,5.8e-5],[6.2,5.5e-5],[6.8,4.5e-5],[7.4,6e-5],[8,5.2e-5],[8.6,6.2e-5],[9.2,5.4e-5],[10,6.4e-5],[12,6.2e-5],[14,6.6e-5],[16,6e-5],[18.6,6.4e-5],[21,6.1e-5],[25,5.8e-5],[29,6.2e-5],[34,5.9e-5],[40,6.2e-5],[44.8,4.8e-5],[47,5.2e-5],[50,5e-5],[52.5,4.6e-5],[55.8,7.5e-5],[57,1.1e-4],[59,1.45e-4],[61.6,5.7e-5],[63.0,3.4e-4],[63.4,1.9e-3],[64.4,1.1],[65.9,2.2e-6]];
const beMagentaLow = [3e-5,1.5e-5,1.5e-5,3e-5,1.5e-5,1.5e-5,1.5e-5,4.5e-5,1.5e-5,1.5e-5,1.5e-5,1.5e-5,3e-5,1.5e-5,1.5e-5,1.5e-5,1.5e-5,3e-5,1.5e-5,1.5e-5];
const beMagenta = [[1.0,3.1e-5],[1.07,1.5e-5],[1.14,1.3e-5],[1.2,1.65e-5],[1.29,1.3e-5],[1.36,9e-6],[1.42,1.2e-5],[1.5,1.9e-5],[1.58,1.75e-5],[1.65,1.3e-5],[1.73,2.4e-5],[1.85,2.4e-5],[1.95,1.3e-5],[2.05,1.9e-5],[2.14,2.5e-5],[2.25,2.1e-5],[2.33,2.8e-5],[2.42,1.5e-5],[2.5,2.1e-5],[2.6,2.3e-5],[2.7,3.1e-5],[2.78,1.5e-5],[2.88,2.7e-5],[3.0,1.9e-5],[3.15,2.6e-5],[3.3,1.9e-5],[3.45,2.7e-5],[3.6,6e-6],[3.7,3.1e-5],[3.8,1.5e-5],[3.95,2.6e-5],[4.1,1.6e-5],[4.25,2.9e-5],[4.4,1.3e-5],[4.55,2.4e-5],[4.7,1.2e-5],[4.85,2.2e-5],[5.0,1.4e-5],[5.2,2.7e-5],[5.35,1.8e-5],[5.5,2.4e-5],[5.7,1.3e-5],[5.85,3e-5],[6.0,2.2e-5],[6.15,1.1e-5],[6.3,2.7e-5],[6.5,1.6e-5],[6.65,3.3e-5],[6.8,1.8e-5],[7.0,2.6e-5],[7.15,1.2e-5],[7.3,2.2e-5],[7.5,3.6e-5],[7.65,1.5e-5],[7.8,2.6e-5],[8.0,1.7e-5],[8.2,3e-5],[8.35,6e-6],[8.5,2.4e-5],[8.7,1.5e-5],[8.9,2.8e-5],[9.1,1.7e-5],[9.3,2.5e-5],[9.5,1.3e-5],[9.7,2.4e-5],[9.95,2.3e-5],[10.9,1.75e-5],[11.7,1.6e-5],[12.6,1.45e-5],[13.4,1.35e-5],[14.3,1.4e-5],[15.3,1.4e-5],[16.2,1.2e-5],[17.1,1.3e-5],[17.9,1.25e-5],[18.9,1.3e-5],[19.6,1.25e-5],[20.5,1.15e-5],[21.5,1.55e-5],[22.2,1.4e-5],[23,1.45e-5],[24,1.55e-5],[25,1.4e-5],[25.6,1.3e-5],[26.7,1.85e-5],[27.7,1.9e-5],[28.5,2.0e-5],[29.5,1.65e-5],[30.5,1.7e-5],[31.8,1.85e-5],[33,2.0e-5],[34.5,2.1e-5],[36,2.0e-5],[37.6,2.3e-5],[39,2.1e-5],[40.8,2.0e-5],[42,1.9e-5],[43.5,1.4e-5],[44.8,1e-5],[46,7.3e-6],[47.5,6.5e-6],[48.6,5.1e-6],[50,4.5e-6],[51,3.4e-6],[51.9,2.2e-6],[53.2,3.8e-6],[54.2,3.8e-6],[55.3,2.6e-6],[56.6,3.8e-6],[57.9,5.5e-6],[59,6.2e-6],[59.8,8e-6],[60.8,1.05e-5],[61.8,6e-6],[63,2.9e-6],[64.2,2.8e-5],[65,1.7e-4],[66.2,1.1]];
const beNavyLow = [1.5e-5,1.5e-5,1.5e-5,1.5e-5,1.5e-5,1.5e-5,1.5e-5,3e-5,1.5e-5,1.5e-5,1.5e-5,1.5e-5,1.5e-5,1.5e-5,1.5e-5,1.5e-5,1.5e-5,1.5e-5,1.5e-5,1.5e-5];
const beNavy = [[1.0,1.5e-5],[1.07,7.5e-6],[1.14,5.7e-6],[1.2,1.2e-5],[1.29,9e-6],[1.36,1.5e-5],[1.42,9e-6],[1.5,1.35e-5],[1.58,1.75e-5],[1.65,1.5e-5],[1.73,1.5e-5],[1.85,1.5e-5],[1.95,1.5e-5],[2.05,5.7e-6],[2.14,1.35e-5],[2.25,1.2e-5],[2.33,1.05e-5],[2.42,1.35e-5],[2.5,7.3e-6],[2.6,1.05e-5],[2.7,1.05e-5],[2.78,1.2e-5],[2.88,4.3e-6],[3.0,1.2e-5],[3.15,7.3e-6],[3.3,1.05e-5],[3.45,2.1e-5],[3.6,1.05e-5],[3.75,1.2e-5],[3.9,7e-6],[4.1,1.5e-5],[4.3,9e-6],[4.5,1.5e-5],[4.7,6e-6],[4.9,1.2e-5],[5.1,1.5e-5],[5.3,1.8e-5],[5.5,1.2e-5],[5.8,1.5e-5],[6.0,7.3e-6],[6.3,1.5e-5],[6.6,1.05e-5],[6.9,1.5e-5],[7.2,1.2e-5],[7.6,1.5e-5],[8.0,1.8e-5],[8.4,6e-6],[8.8,1.5e-5],[9.2,1.05e-5],[9.6,1.5e-5],[9.95,9e-6],[10.9,1.1e-5],[11.7,1.05e-5],[12.6,1e-5],[13.4,9e-6],[14.3,1.15e-5],[15.3,1e-5],[16.2,9e-6],[17.1,7.2e-6],[17.9,9.5e-6],[18.9,1e-5],[19.7,7e-6],[20.6,9.5e-6],[21.5,1.2e-5],[22.3,1e-5],[23.1,1e-5],[24.2,1.05e-5],[25.9,1.05e-5],[26.6,1.3e-5],[27.6,1.6e-5],[28.6,1.15e-5],[30.3,1.05e-5],[31.8,1.15e-5],[33,1.35e-5],[34.6,1.55e-5],[36,1.25e-5],[37.2,1.75e-5],[38,1.9e-5],[39,1.55e-5],[40.5,1.35e-5],[42,1.05e-5],[43.5,1.1e-5],[44.8,4.7e-6],[45.8,5.7e-6],[46.9,3.4e-6],[47.8,2.1e-6],[48.6,2.9e-6],[50.5,9e-7],[51.4,4.4e-7],[52.4,1.5e-7]];
const beNavyPeak = [[65.8,1.2e-6],[66.0,2.2e-6],[66.1,1.1]];

function withLow(lowVals, rest){ return lowE.map((e,i)=>[e,lowVals[i]]).concat(rest); }

const curves = [
  {c:'#666699', d:withLow(beSlateLow,beSlate)},
  {c:'#FF6600', d:withLow(beOrangeLow,beOrange)},
  {c:'#FF9900', d:withLow(beAmberLow,beAmber)},
  {c:'#FFCC00', d:withLow(beGoldLow,beGold)},
  {c:'#99CC00', d:withLow(beLimeLow,beLime)},
  {c:'#33CCCC', d:withLow(beTurqLow,beTurq)},
  {c:'#3366FF', d:withLow(beRoyalLow,beRoyal)},
  {c:'#FFCC99', d:withLow(bePeachLow,bePeach)},
  {c:'#CC99FF', d:withLow(beLavenderLow,beLavender)},
  {c:'#FF99CC', d:withLow(bePinkLow,bePink)},
  {c:'#99CCFF', d:withLow(beSkyLow,beSky)},
  {c:'#FFFF99', d:withLow(beCreamLow,beCream)},
  {c:'#CCFFCC', d:withLow(beMintLow,beMint)},
  {c:'#CCFFFF', d:withLow(beIceLow,beIce)},
  {c:'#00CCFF', d:withLow(beAzureLow,beAzure)},
  {c:'#0000FF', d:withLow(beBlueLow,beBlue)},
  {c:'#008080', d:withLow(beTealLow,beTeal)},
  {c:'#800000', d:withLow(beMaroonLow,beMaroon)},
  {c:'#800080', d:withLow(bePlumLow,bePlum)},
  {c:'#00FFFF', d:withLow(beCyanLow,beCyan)},
  {c:'#FFFF00', d:withLow(beYellowLow,beYellow)},
  {c:'#000080', d:withLow(beNavyLow,beNavy)},
  {c:'#000080', d:beNavyPeak},
  {c:'#FF00FF', d:withLow(beMagentaLow,beMagenta)},
  {c:'#969696', d:auGrey},
  {c:'#003366', d:auNavy},
  {c:'#339966', d:auSeaGreen},
  {c:'#003300', d:auDkGreen},
  {c:'#333300', d:auOlive},
  {c:'#993300', d:auBrown},
  {c:'#993366', d:auPurple},
  {c:'#333399', d:auIndigo},
  {c:'#FFFFFF', d:auWhite, w:3.5},
  {c:'#000000', d:auBlack, w:3.5},
  {c:'#FF0000', d:auRedTail},
  {c:'#FF0000', d:auRed, w:3.5},
  {c:'#00FF00', d:geantGreen, w:3.5, step:'start'}
];

const FONT = '"Liberation Sans", Arial, sans-serif';
const series = curves.map(s => ({
  type:'line', data:s.d, symbol:'diamond', symbolSize:7, showSymbol:true, showAllSymbol:true,
  step: s.step || false, silent:true, animation:false,
  lineStyle:{color:s.c, width:s.w||3}, itemStyle:{color:s.c}
}));

function arrowHead(tip, dirx, diry, len, half){
  const bx = tip[0]-dirx*len, by = tip[1]-diry*len;
  const px = -diry*half, py = dirx*half;
  return [[tip[0],tip[1]],[bx+px,by+py],[bx-px,by-py]];
}
function txt(x,y,t,size){ return {type:'text', x:x, y:y, z:101, style:{text:t, fontSize:size||27, fontFamily:FONT, fill:'#000', align:'center', verticalAlign:'middle'}}; }
function ln(x1,y1,x2,y2){ return {type:'line', z:100, shape:{x1,y1,x2,y2}, style:{stroke:'#000', lineWidth:3}}; }
function poly(pts){ return {type:'polygon', z:100, shape:{points:pts}, style:{fill:'#000'}}; }

const graphics = [
  {type:'rect', z:99, shape:{x:465,y:132,width:323,height:144}, style:{fill:'#C0C0C0', stroke:'#000', lineWidth:3}},
  txt(626.5,154,'proton spectrum emerging'),
  txt(626.5,184.5,'from Au'),
  txt(626.5,215,'MCNPX - Red'),
  txt(626.5,245,'GEANT4 - Green'),
  ln(768,277,820.6,375.8),
  poly(arrowHead([828,390],0.463,0.886,17,7.5)),
  txt(1322,61,'Be/Au Boundary',26.5),
  ln(1318.6,79,1318.6,192),
  poly(arrowHead([1318.6,207],0,1,16,7.5)),
  ln(1155,114,1036,114),
  poly(arrowHead([1022,114],-1,0,16,7.5)),
  txt(1175,114,'Au',26.5),
  ln(1199,114,1302,114),
  poly(arrowHead([1318,114],1,0,16,7.5)),
  ln(1439,114,1336,114),
  poly(arrowHead([1320,114],-1,0,16,7.5)),
  txt(1461,114,'Be',26.5),
  ln(1487,114,1592,114),
  poly(arrowHead([1608,114],1,0,16,7.5)),
  {type:'rect', z:99, shape:{x:1318.6,y:1035,width:311,height:72}, style:{fill:'#FFFFFF', stroke:'#000', lineWidth:2.5}},
  txt(1474,1058,'mono-energetic 66 MeV'),
  txt(1474,1087,'incident protons - dk blue'),
  ln(1587.4,1035,1604.1,910.9),
  poly(arrowHead([1606.2,895],0.133,-0.991,17,7.5))
];

const chart = echarts.init(document.getElementById('c'), null, {renderer:'canvas'});
chart.setOption({
  animation:false,
  backgroundColor:'#FFFFFF',
  grid:{left:183, right:25, top:22, bottom:102, show:true, backgroundColor:'#C0C0C0', borderColor:'#808080', borderWidth:2},
  xAxis:{type:'log', logBase:10, min:0.1, max:100, interval:1,
    axisLine:{show:true, lineStyle:{color:'#606060', width:2}},
    axisTick:{show:true, length:7, lineStyle:{color:'#606060', width:2}},
    minorTick:{show:false}, splitLine:{show:false},
    axisLabel:{fontSize:26, fontFamily:FONT, color:'#000', margin:29,
      formatter:v=>xTickLabels[Math.round(Math.log10(v))+1]},
    name:'Proton Energy (MeV)', nameLocation:'middle', nameGap:73,
    nameTextStyle:{fontSize:26.5, fontWeight:'bold', fontFamily:FONT, color:'#000'}},
  yAxis:{type:'log', logBase:10, min:1e-7, max:10, interval:1,
    axisLine:{show:true, lineStyle:{color:'#606060', width:2}},
    axisTick:{show:true, length:7, lineStyle:{color:'#606060', width:2}},
    minorTick:{show:false},
    splitLine:{show:true, lineStyle:{color:'#000', width:1.5}},
    axisLabel:{fontSize:26, fontFamily:FONT, color:'#000', margin:19,
      formatter:v=>yTickLabels[Math.round(Math.log10(v))+7]},
    name:'particles/MeV/incident proton', nameLocation:'middle', nameGap:142,
    nameTextStyle:{fontSize:26.5, fontWeight:'bold', fontFamily:FONT, color:'#000'}},
  series:series,
  graphic:graphics
});
</script>
</body></html>
